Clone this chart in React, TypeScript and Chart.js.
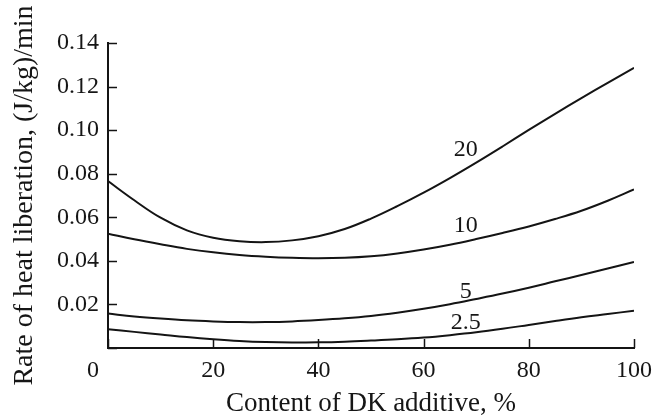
import React, { useEffect, useRef } from 'react';
import { Chart, registerables } from 'chart.js';

Chart.register(...registerables);

// ---- data ----
const contentDK = [0, 5, 10, 15, 20, 25, 30, 35, 40, 45, 50, 55, 60, 65, 70, 75, 80, 85, 90, 95, 100];
const rate20 = [0.0766, 0.0678, 0.0598, 0.054, 0.0506, 0.049, 0.0486, 0.0494, 0.0513, 0.0546, 0.0594, 0.0651, 0.0713, 0.078, 0.0851, 0.0925, 0.1001, 0.1075, 0.1147, 0.1217, 0.1286];
const rate10 = [0.0525, 0.0499, 0.0476, 0.0455, 0.0439, 0.0427, 0.0419, 0.0414, 0.0412, 0.0414, 0.0421, 0.0434, 0.0452, 0.0474, 0.05, 0.0528, 0.0558, 0.0592, 0.063, 0.0676, 0.0728];
const rate5 = [0.0158, 0.0145, 0.0135, 0.0127, 0.0122, 0.0119, 0.0119, 0.0122, 0.0128, 0.0136, 0.0147, 0.0162, 0.018, 0.0201, 0.0225, 0.025, 0.0277, 0.0306, 0.0335, 0.0365, 0.0395];
const rate2_5 = [0.0086, 0.0074, 0.0062, 0.005, 0.004, 0.0032, 0.0027, 0.0025, 0.0026, 0.0029, 0.0034, 0.004, 0.0048, 0.0059, 0.0072, 0.0088, 0.0106, 0.0124, 0.0141, 0.0156, 0.0171];
const seriesNames = ['20', '10', '5', '2.5'];
// curve label anchors, in data units (x: content %, y: rate)
const labelAtX = [68, 68, 68, 68];
const labelAtY = [0.0912, 0.0562, 0.0258, 0.0115];

const xTickValues = [0, 20, 40, 60, 80, 100];
const yTickValues = [0, 0.02, 0.04, 0.06, 0.08, 0.1, 0.12, 0.14];
const xTitle = 'Content of DK additive, %';
const yTitle = 'Rate of heat liberation, (J/kg)/min';

const FONT = "'Liberation Serif', 'Times New Roman', serif";
const INK = '#141414';
const TEXT = '#161616';
const TICK_LEN = 9;
const TICK_FONT = 24;

const overlayPlugin = {
  id: 'overlay',
  afterDraw(chart: any) {
    const ctx = chart.ctx;
    const xs = chart.scales.x;
    const ys = chart.scales.y;
    const area = chart.chartArea;
    ctx.save();
    // inward tick marks
    ctx.strokeStyle = INK;
    ctx.lineWidth = 1.5;
    ctx.beginPath();
    xs.ticks.forEach((t: any) => {
      const px = Math.round(xs.getPixelForValue(t.value)) + 0.5;
      ctx.moveTo(px, area.bottom);
      ctx.lineTo(px, area.bottom - TICK_LEN);
    });
    ys.ticks.forEach((t: any) => {
      const py = Math.round(ys.getPixelForValue(t.value)) + 0.5;
      ctx.moveTo(area.left, py);
      ctx.lineTo(area.left + TICK_LEN, py);
    });
    ctx.stroke();
    // origin label "0"
    ctx.fillStyle = TEXT;
    ctx.font = `${TICK_FONT}px ${FONT}`;
    ctx.textAlign = 'center';
    ctx.textBaseline = 'middle';
    ctx.fillText('0', xs.getPixelForValue(0) - 15, xs.top + 8 + (TICK_FONT * 1.2) / 2);
    // curve labels
    seriesNames.forEach((name, i) => {
      ctx.fillText(name, xs.getPixelForValue(labelAtX[i]), ys.getPixelForValue(labelAtY[i]));
    });
    ctx.restore();
  },
};

export default function App() {
  const ref = useRef<HTMLCanvasElement>(null);
  useEffect(() => {
    document.body.style.margin = '0';
    const canvas = ref.current;
    if (!canvas) return;
    const series = [rate20, rate10, rate5, rate2_5];
    const chart = new Chart(canvas, {
      type: 'line',
      data: {
        datasets: series.map((vals, i) => ({
          label: seriesNames[i],
          data: contentDK.map((x, j) => ({ x, y: vals[j] })),
          borderColor: INK,
          borderWidth: 2,
          pointRadius: 0,
          fill: false,
          tension: 0.4,
        })),
      },
      options: {
        responsive: false,
        animation: false,
        events: [],
        layout: { padding: { top: 43, right: 27, left: 0, bottom: 0 } },
        plugins: { legend: { display: false }, tooltip: { enabled: false } },
        scales: {
          x: {
            type: 'linear',
            min: 0,
            max: 100,
            afterBuildTicks: (s: any) => {
              s.ticks = xTickValues.map((v) => ({ value: v }));
            },
            afterFit: (s: any) => {
              s.height = 71;
            },
            grid: { display: false, drawTicks: false },
            border: { display: true, color: INK, width: 2 },
            ticks: {
              color: TEXT,
              font: { family: FONT, size: TICK_FONT },
              padding: 8,
              maxRotation: 0,
              callback: (v: any) => (v === 0 ? '' : String(v)),
            },
            title: {
              display: true,
              text: xTitle,
              color: TEXT,
              font: { family: FONT, size: 27, lineHeight: 1 },
              padding: { top: 0, bottom: 2 },
            },
          },
          y: {
            type: 'linear',
            min: 0,
            max: 0.14,
            afterBuildTicks: (s: any) => {
              s.ticks = yTickValues.map((v) => ({ value: v }));
            },
            afterFit: (s: any) => {
              s.width = 108;
            },
            grid: { display: false, drawTicks: false },
            border: { display: true, color: INK, width: 2 },
            ticks: {
              color: TEXT,
              font: { family: FONT, size: TICK_FONT },
              padding: 9,
              callback: (v: any) => (v === 0 ? '' : Number(v).toFixed(2)),
            },
            title: {
              display: true,
              text: yTitle,
              color: TEXT,
              font: { family: FONT, size: 28, lineHeight: 1 },
              padding: { top: 11, bottom: 0 },
            },
          },
        },
      },
      plugins: [overlayPlugin],
    });
    return () => chart.destroy();
  }, []);
  return <canvas ref={ref} width={661} height={419} style={{ display: 'block' }} />;
}
